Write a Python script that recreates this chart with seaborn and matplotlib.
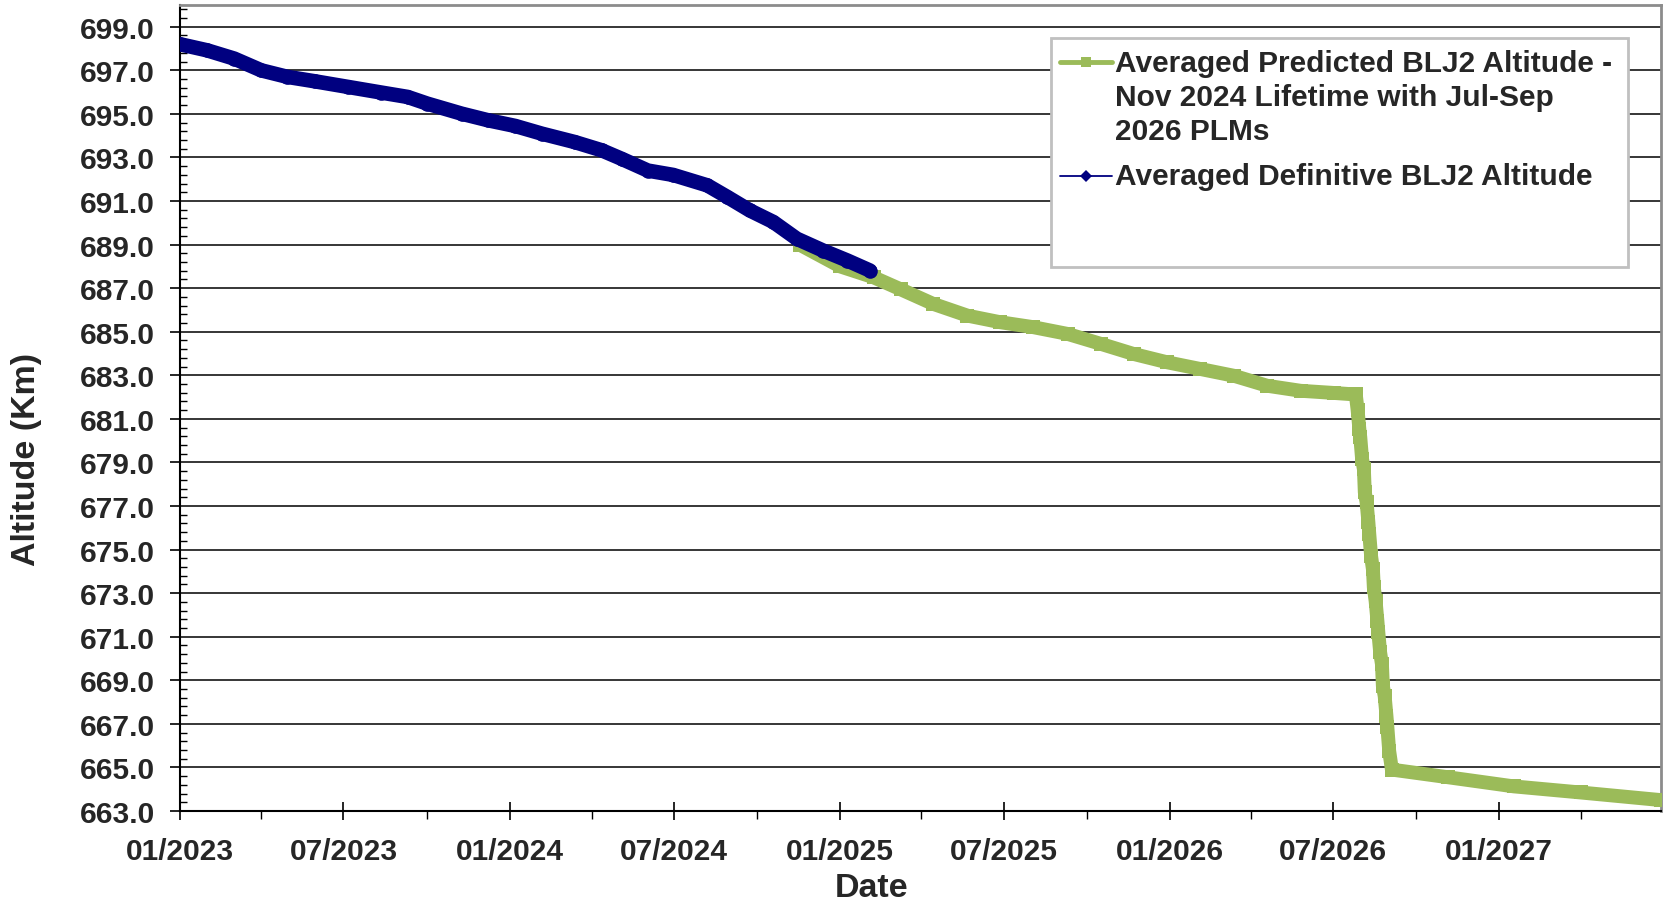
import pandas as pd
import numpy as np
import matplotlib
matplotlib.use("Agg")
import matplotlib.pyplot as plt
import matplotlib.dates as mdates
from matplotlib.lines import Line2D
from matplotlib.patches import Rectangle
from matplotlib.ticker import MultipleLocator, FormatStrFormatter
import seaborn as sns

# definitive altitude
def_dates = ["2023-01-01", "2023-01-31", "2023-03-02", "2023-04-01", "2023-04-30",
             "2023-05-30", "2023-07-06", "2023-08-12", "2023-09-10", "2023-10-02",
             "2023-11-09", "2023-12-08", "2024-01-07", "2024-02-06", "2024-03-13",
             "2024-04-12", "2024-05-04", "2024-06-02", "2024-06-30", "2024-08-07",
             "2024-08-29", "2024-09-23", "2024-10-19", "2024-11-14", "2024-12-13",
             "2025-01-09", "2025-02-03"]
def_alt = [698.20, 697.92, 697.54, 697.00, 696.70,
           696.50, 696.24, 695.98, 695.78, 695.47,
           695.01, 694.71, 694.45, 694.09, 693.71,
           693.33, 692.94, 692.40, 692.20, 691.72,
           691.19, 690.57, 690.04, 689.27, 688.73,
           688.27, 687.81]

# predicted altitude with the Jul-Sep 2026 lowering manoeuvres
pred_dates = ["2024-11-18", "2025-01-01", "2025-02-07", "2025-03-09", "2025-04-14",
              "2025-05-22", "2025-06-27", "2025-08-03", "2025-09-10", "2025-10-17",
              "2025-11-22", "2025-12-29", "2026-02-04", "2026-03-13", "2026-04-19",
              "2026-05-26", "2026-07-02", "2026-07-26",
              "2026-07-28", "2026-07-30", "2026-07-31", "2026-08-02", "2026-08-04",
              "2026-08-05", "2026-08-07", "2026-08-09", "2026-08-10", "2026-08-12",
              "2026-08-14", "2026-08-15", "2026-08-17", "2026-08-19", "2026-08-20",
              "2026-08-22", "2026-08-24", "2026-08-25", "2026-08-27", "2026-08-29",
              "2026-08-30", "2026-09-01", "2026-09-04",
              "2026-11-05", "2027-01-17", "2027-04-01", "2027-06-29"]
pred_alt = [688.98, 688.00, 687.50, 686.95, 686.28,
            685.74, 685.44, 685.21, 684.90, 684.44,
            683.98, 683.60, 683.29, 682.98, 682.52,
            682.29, 682.19, 682.12,
            681.43, 680.52, 680.16, 679.15, 678.69,
            677.63, 677.17, 676.25, 675.70, 674.69,
            674.09, 673.26, 672.63, 671.71, 671.20,
            670.28, 669.73, 668.74, 668.28, 667.36,
            666.85, 665.76, 664.90,
            664.55, 664.13, 663.85, 663.50]

pred_label = "Averaged Predicted BLJ2 Altitude -\nNov 2024 Lifetime with Jul-Sep\n2026 PLMs"
def_label = "Averaged Definitive BLJ2 Altitude"

navy = "#000080"
green = "#9BBB59"

sns.set_theme(style="white")
plt.rcParams['font.family'] = ['Liberation Sans', 'DejaVu Sans']
plt.rcParams['font.weight'] = 'bold'

W, H = 1665, 904
fig = plt.figure(figsize=(W / 100, H / 100), dpi=100)
ax = fig.add_axes([180 / W, 1 - 812 / H, 1481 / W, 806 / H])

defi = pd.DataFrame({"date": pd.to_datetime(def_dates), "alt": def_alt})
pred = pd.DataFrame({"date": pd.to_datetime(pred_dates), "alt": pred_alt})

sns.lineplot(data=pred, x="date", y="alt", ax=ax, color=green, linewidth=10,
             marker="s", markersize=10.5, markeredgewidth=0, zorder=3,
             solid_capstyle="butt")
sns.lineplot(data=defi, x="date", y="alt", ax=ax, color=navy, linewidth=10.5,
             marker="o", markersize=10.5, markeredgewidth=0, zorder=4)

ax.set_ylim(663, 700)
ax.set_xlim(pd.Timestamp("2023-01-01"), pd.Timestamp("2027-06-29"))

ax.set_yticks(np.arange(663, 700, 2))
ax.yaxis.set_minor_locator(MultipleLocator(0.4, offset=0.2))
ax.yaxis.set_major_formatter(FormatStrFormatter("%.1f"))
ax.xaxis.set_major_locator(mdates.MonthLocator(bymonth=[1, 7]))
ax.xaxis.set_minor_locator(mdates.MonthLocator(bymonth=[4, 10]))
ax.xaxis.set_major_formatter(mdates.DateFormatter("%m/%Y"))

ax.grid(True, which="major", axis="y", color="#000000", linewidth=1.1)
ax.grid(False, axis="x")

ax.tick_params(axis="y", which="major", direction="out", length=7, width=1.2,
               color="black", labelsize=21.5, pad=11, left=True)
ax.tick_params(axis="y", which="minor", direction="in", length=5, width=1.0,
               color="black", left=True)
ax.tick_params(axis="x", which="major", direction="inout", length=13, width=1.2,
               color="black", labelsize=21.5, pad=12, bottom=True)
ax.tick_params(axis="x", which="minor", direction="out", length=6, width=1.0,
               color="black", bottom=True)
for lab in ax.get_xticklabels() + ax.get_yticklabels():
    lab.set_fontweight("bold")

for s in ["left", "bottom"]:
    ax.spines[s].set_color("black")
    ax.spines[s].set_linewidth(1.5)
for s in ["top", "right"]:
    ax.spines[s].set_color("#8c8c8c")
    ax.spines[s].set_linewidth(2)

ax.set_xlabel("Date", fontsize=24.5, fontweight="bold")
ax.set_ylabel("Altitude (Km)", fontsize=24.5, fontweight="bold")
ax.xaxis.label.set_va("center")
ax.yaxis.label.set_va("center")
ax.xaxis.set_label_coords((872 - 180) / 1481, (812 - 889) / 806)
ax.yaxis.set_label_coords((26.5 - 180) / 1481, (812 - 459) / 806)

# legend box drawn by hand (handle sits on the first line of the long label)
def fx(px):
    return px / W

def fy(py):
    return 1 - py / H

fig.add_artist(Rectangle((fx(1051), fy(268)), fx(1628) - fx(1051), fy(39) - fy(268),
                         transform=fig.transFigure, facecolor="white",
                         edgecolor="#c0c0c0", linewidth=2, zorder=5))
fig.add_artist(Line2D([fx(1060), fx(1086), fx(1112)], [fy(63), fy(63), fy(63)],
                      transform=fig.transFigure, color=green, linewidth=3.5, marker="s",
                      markersize=7, markevery=[1], markeredgewidth=0, zorder=6))
fig.add_artist(Line2D([fx(1060), fx(1086), fx(1112)], [fy(177), fy(177), fy(177)],
                      transform=fig.transFigure, color=navy, linewidth=1.3, marker="D",
                      markersize=6.5, markevery=[1], markeredgewidth=0, zorder=6))
fig.text(fx(1115), fy(98), pred_label, fontsize=21.5, fontweight="bold",
         va="center", ha="left", linespacing=1.27, zorder=7)
fig.text(fx(1115), fy(177), def_label, fontsize=21.5, fontweight="bold",
         va="center", ha="left", zorder=7)

fig.savefig("out.png", dpi=100)
